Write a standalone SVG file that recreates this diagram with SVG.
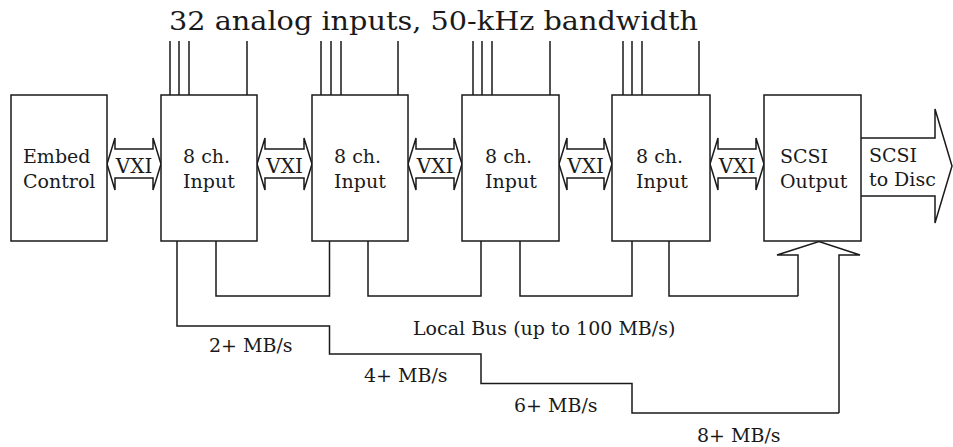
<svg xmlns="http://www.w3.org/2000/svg" width="953" height="447" viewBox="0 0 953 447">
<style>
.box{fill:#fff;stroke:#1a1a1a;stroke-width:1.5}
.ln{fill:none;stroke:#1a1a1a;stroke-width:1.5}
.arr{fill:#fff;stroke:#1a1a1a;stroke-width:1.5;stroke-linejoin:miter}
text{font-family:"DejaVu Serif","Liberation Serif",serif;fill:#1a1a1a}
.t{font-size:19px}
.v{font-size:20px;text-anchor:middle}
</style>
<rect width="953" height="447" fill="#fff"/>
<text x="169" y="30" font-size="26" textLength="529" lengthAdjust="spacingAndGlyphs">32 analog inputs, 50-kHz bandwidth</text>

<g id="connectors">
  <!-- analog input lines -->
  <path class="ln" d="M170,41V95M179,41V95M189,41V95M247,41V95"/>
  <path class="ln" d="M321,41V95M331,41V95M341,41V95M398,41V95"/>
  <path class="ln" d="M473,41V95M482,41V95M492,41V95M550,41V95"/>
  <path class="ln" d="M623,41V95M632,41V95M642,41V95M699,41V95"/>
  <!-- VXI double arrows -->
  <polygon class="arr" points="107,164 115,138 115,149 153,149 153,138 161,164 153,190 153,178 115,178 115,190"/>
  <polygon class="arr" points="257,164 265,138 265,149 304,149 304,138 312,164 304,190 304,178 265,178 265,190"/>
  <polygon class="arr" points="408,164 416,138 416,149 454,149 454,138 462,164 454,190 454,178 416,178 416,190"/>
  <polygon class="arr" points="559,164 567,138 567,149 604,149 604,138 612,164 604,190 604,178 567,178 567,190"/>
  <polygon class="arr" points="710,164 718,138 718,149 756,149 756,138 764,164 756,190 756,178 718,178 718,190"/>
  <text class="v" x="134" y="173">VXI</text>
  <text class="v" x="284.5" y="173">VXI</text>
  <text class="v" x="435" y="173">VXI</text>
  <text class="v" x="585.5" y="173">VXI</text>
  <text class="v" x="737" y="173">VXI</text>
  <!-- SCSI to Disc arrow -->
  <polyline class="arr" points="861,138 935,138 935,109 952,166 935,223 935,196 861,196"/>
  <text class="t" x="869" y="162">SCSI</text>
  <text class="t" x="869" y="186">to Disc</text>
  <!-- local bus -->
  <polyline class="ln" points="216,241 216,296 329.5,296 329.5,241"/>
  <polyline class="ln" points="368,241 368,296 481,296 481,241"/>
  <polyline class="ln" points="520,241 520,296 632,296 632,241"/>
  <polyline class="ln" points="669,241 669,296 839,296"/>
  <polyline class="arr" points="798,296 798,255 777,255 819,241.5 860,255 839,255 839,413"/>
  <!-- staircase -->
  <polyline class="ln" points="177,241 177,326 329.5,326 329.5,354 481,354 481,383.5 632,383.5 632,413 839,413"/>
  <text class="t" x="413" y="335">Local Bus (up to 100 MB/s)</text>
  <text class="t" x="209" y="352">2+ MB/s</text>
  <text class="t" x="364" y="382">4+ MB/s</text>
  <text class="t" x="514" y="412">6+ MB/s</text>
  <text class="t" x="697" y="442">8+ MB/s</text>
</g>

<g id="embed">
  <rect class="box" x="11" y="95" width="96" height="146"/>
  <text class="t" x="23" y="163">Embed</text>
  <text class="t" x="23" y="188">Control</text>
</g>
<g id="input1">
  <rect class="box" x="161" y="95" width="96" height="146"/>
  <text class="t" x="183" y="163">8 ch.</text>
  <text class="t" x="183" y="188">Input</text>
</g>
<g id="input2">
  <rect class="box" x="312" y="95" width="96" height="146"/>
  <text class="t" x="334" y="163">8 ch.</text>
  <text class="t" x="334" y="188">Input</text>
</g>
<g id="input3">
  <rect class="box" x="462" y="95" width="97" height="146"/>
  <text class="t" x="485" y="163">8 ch.</text>
  <text class="t" x="485" y="188">Input</text>
</g>
<g id="input4">
  <rect class="box" x="612" y="95" width="98" height="146"/>
  <text class="t" x="636" y="163">8 ch.</text>
  <text class="t" x="636" y="188">Input</text>
</g>
<g id="scsi-output">
  <rect class="box" x="764" y="95" width="97" height="146"/>
  <text class="t" x="780" y="163">SCSI</text>
  <text class="t" x="780" y="188">Output</text>
</g>
</svg>
